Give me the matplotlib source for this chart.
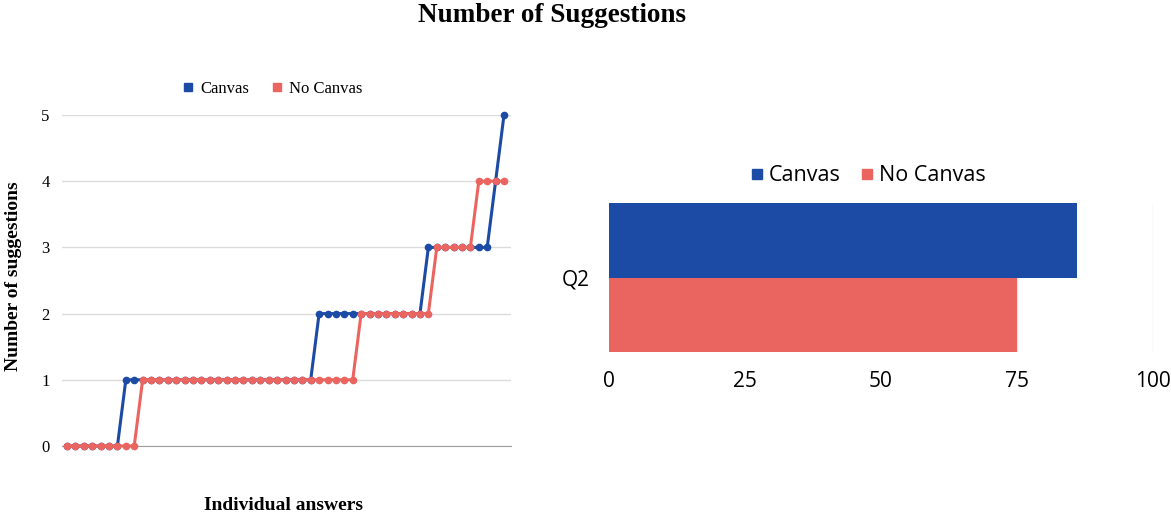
import numpy as np
import matplotlib
matplotlib.use("Agg")
import matplotlib.pyplot as plt
from matplotlib.lines import Line2D

# %% data
# suggestions per individual answer, sorted ascending (53 answers)
canvas_counts = [0] * 7 + [1] * 23 + [2] * 13 + [3] * 8 + [4] + [5]
no_canvas_counts = [0] * 9 + [1] * 26 + [2] * 9 + [3] * 5 + [4] * 4

bar_category = ["Q2"]
bar_canvas = [86]
bar_no_canvas = [75]
bar_ticks = [0, 25, 50, 75, 100]

blue = "#1c4ba6"
red = "#eb6560"
grid_col = "#dcdcdc"

W, H = 1171, 515

# %% figure
fig = plt.figure(figsize=(W / 100, H / 100), dpi=100)
serif = "Liberation Serif"
sans = "Open Sans"

fig.text(552 / W, 1 - 16 / H, "Number of Suggestions", ha="center", va="center",
         fontsize=19.5, fontweight="bold", family=serif)

# %% left: line chart
ax = fig.add_axes([62 / W, (H - 446) / H, (511 - 62) / W, 331 / H])
idx = np.arange(len(canvas_counts))
style = dict(linewidth=2.2, marker="o", markersize=4.5, clip_on=False)
ax.plot(idx, canvas_counts, color=blue, label="Canvas", zorder=3, **style)
ax.plot(idx, no_canvas_counts, color=red, label="No Canvas", zorder=4, **style)

# 53 points spread from x=67 to x=504 px
step = (504 - 67) / (len(idx) - 1)
ax.set_xlim(-(67 - 62) / step, (len(idx) - 1) + (511 - 504) / step)
ax.set_ylim(0, 5)
ax.set_yticks(range(6))
ax.set_xticks([])
ax.grid(axis="y", color=grid_col, linewidth=1)
ax.set_axisbelow(True)
for s in ["top", "right", "left"]:
    ax.spines[s].set_visible(False)
ax.spines["bottom"].set_color("#9e9e9e")
ax.tick_params(axis="y", length=0, pad=9)
for lbl in ax.get_yticklabels():
    lbl.set_family(serif)
    lbl.set_fontsize(12)
fig.text(14 / W, 1 - 276 / H, "Number of suggestions", rotation=90,
         ha="center", va="center", family=serif, fontsize=14, fontweight="bold")
fig.text(284 / W, 1 - 505 / H, "Individual answers", ha="center", va="center",
         family=serif, fontsize=14, fontweight="bold")

handles = [
    Line2D([], [], color=blue, marker="s", linestyle="", markersize=5.5),
    Line2D([], [], color=red, marker="s", linestyle="", markersize=5.5),
]
fig.legend(handles, ["Canvas", "No Canvas"], loc="center",
           bbox_to_anchor=(272 / W, 1 - 89 / H), ncol=2, frameon=False,
           prop={"family": serif, "size": 12}, handletextpad=0.3,
           columnspacing=1.3, handlelength=0.8)

# %% right: horizontal bar chart
bx = fig.add_axes([609 / W, (H - 352) / H, 544 / W, 149 / H])
h = 0.5
ypos = np.arange(len(bar_category))
bx.barh(ypos + h / 2, bar_canvas, height=h, color=blue, label="Canvas")
bx.barh(ypos - h / 2, bar_no_canvas, height=h, color=red, label="No Canvas")
bx.set_ylim(-h, h)
bx.set_xlim(0, 100)
bx.set_yticks(ypos)
bx.set_yticklabels(bar_category)
bx.set_xticks(bar_ticks)
bx.grid(axis="x", color="#e6e6e6", linewidth=1)
bx.set_axisbelow(True)
for s in bx.spines.values():
    s.set_visible(False)
bx.tick_params(length=0, labelsize=15)
bx.tick_params(axis="x", pad=14)
bx.tick_params(axis="y", pad=14)
for lbl in bx.get_xticklabels() + bx.get_yticklabels():
    lbl.set_family(sans)

handles_b = [
    Line2D([], [], color=blue, marker="s", linestyle="", markersize=6.5),
    Line2D([], [], color=red, marker="s", linestyle="", markersize=6.5),
]
fig.legend(handles_b, ["Canvas", "No Canvas"], loc="center",
           bbox_to_anchor=(868 / W, 1 - 176 / H), ncol=2, frameon=False,
           prop={"family": sans, "size": 15.5}, handletextpad=0.25,
           columnspacing=0.9, handlelength=0.6)

fig.savefig("out.png", dpi=100)
